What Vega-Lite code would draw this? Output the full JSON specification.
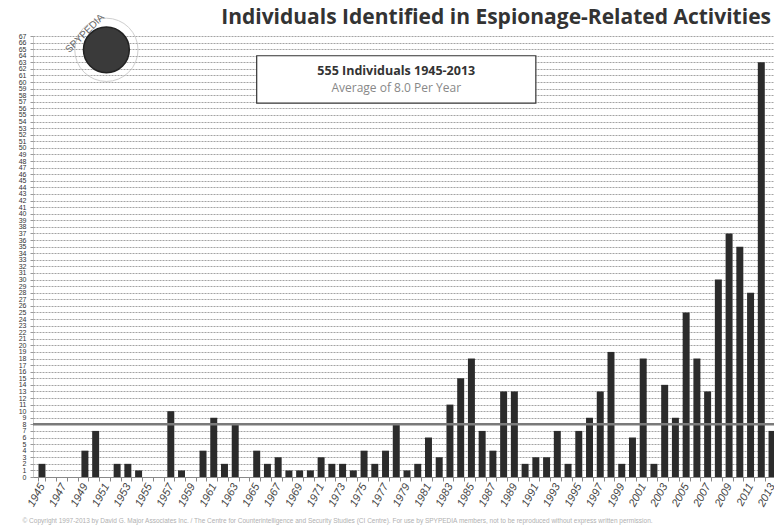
{
  "$schema": "https://vega.github.io/schema/vega-lite/v6.json",
  "width": 741,
  "height": 441,
  "autosize": "none",
  "padding": {"left": 33, "top": 36, "right": 0, "bottom": 50},
  "background": "white",
  "config": {"view": {"stroke": null}, "font": "Liberation Sans", "axisY": {"labelOverlap": false}},
  "title": {
    "text": "Individuals Identified in Espionage-Related Activities",
    "font": "Open Sans",
    "fontSize": 21,
    "fontWeight": "bold",
    "color": "#333",
    "anchor": "end",
    "dx": -10,
    "offset": -16
  },
  "resolve": {"axis": {"x": "independent", "y": "independent"}},
  "data": {
    "values": [
      {"year": 1945, "count": 2}, {"year": 1946, "count": 0}, {"year": 1947, "count": 0}, {"year": 1948, "count": 0},
      {"year": 1949, "count": 4}, {"year": 1950, "count": 7}, {"year": 1951, "count": 0}, {"year": 1952, "count": 2},
      {"year": 1953, "count": 2}, {"year": 1954, "count": 1}, {"year": 1955, "count": 0}, {"year": 1956, "count": 0},
      {"year": 1957, "count": 10}, {"year": 1958, "count": 1}, {"year": 1959, "count": 0}, {"year": 1960, "count": 4},
      {"year": 1961, "count": 9}, {"year": 1962, "count": 2}, {"year": 1963, "count": 8}, {"year": 1964, "count": 0},
      {"year": 1965, "count": 4}, {"year": 1966, "count": 2}, {"year": 1967, "count": 3}, {"year": 1968, "count": 1},
      {"year": 1969, "count": 1}, {"year": 1970, "count": 1}, {"year": 1971, "count": 3}, {"year": 1972, "count": 2},
      {"year": 1973, "count": 2}, {"year": 1974, "count": 1}, {"year": 1975, "count": 4}, {"year": 1976, "count": 2},
      {"year": 1977, "count": 4}, {"year": 1978, "count": 8}, {"year": 1979, "count": 1}, {"year": 1980, "count": 2},
      {"year": 1981, "count": 6}, {"year": 1982, "count": 3}, {"year": 1983, "count": 11}, {"year": 1984, "count": 15},
      {"year": 1985, "count": 18}, {"year": 1986, "count": 7}, {"year": 1987, "count": 4}, {"year": 1988, "count": 13},
      {"year": 1989, "count": 13}, {"year": 1990, "count": 2}, {"year": 1991, "count": 3}, {"year": 1992, "count": 3},
      {"year": 1993, "count": 7}, {"year": 1994, "count": 2}, {"year": 1995, "count": 7}, {"year": 1996, "count": 9},
      {"year": 1997, "count": 13}, {"year": 1998, "count": 19}, {"year": 1999, "count": 2}, {"year": 2000, "count": 6},
      {"year": 2001, "count": 18}, {"year": 2002, "count": 2}, {"year": 2003, "count": 14}, {"year": 2004, "count": 9},
      {"year": 2005, "count": 25}, {"year": 2006, "count": 18}, {"year": 2007, "count": 13}, {"year": 2008, "count": 30},
      {"year": 2009, "count": 37}, {"year": 2010, "count": 35}, {"year": 2011, "count": 28}, {"year": 2012, "count": 63},
      {"year": 2013, "count": 7}
    ]
  },
  "layer": [
    {
      "mark": {"type": "bar", "color": "#2b2b2b"},
      "encoding": {
        "x": {
          "field": "year",
          "type": "ordinal",
          "scale": {"range": [0, 748], "paddingInner": 0.35, "paddingOuter": 0.51},
          "axis": {
            "title": "© Copyright 1997-2013 by David G. Major Associates Inc. / The Centre for Counterintelligence and Security Studies (CI Centre). For use by SPYPEDIA members, not to be reproduced without express written permission.",
            "titleFontSize": 6.5,
            "titleFontWeight": "normal",
            "titleColor": "#b0b0b0",
            "titleAnchor": "start",
            "titleX": -11,
            "titlePadding": 10,
            "labelAngle": -62,
            "labelFontSize": 11,
            "labelFontStyle": "italic",
            "labelColor": "#444",
            "labelExpr": "datum.value % 2 == 1 ? datum.label : ''",
            "labelPadding": 3,
            "tickBand": "extent",
            "tickSize": 4,
            "tickColor": "#888",
            "domainColor": "#888",
            "grid": false
          }
        },
        "y": {
          "field": "count",
          "type": "quantitative",
          "scale": {"domain": [0, 67], "nice": false},
          "axis": {
            "title": null,
            "values": [0,1,2,3,4,5,6,7,8,9,10,11,12,13,14,15,16,17,18,19,20,21,22,23,24,25,26,27,28,29,30,31,32,33,34,35,36,37,38,39,40,41,42,43,44,45,46,47,48,49,50,51,52,53,54,55,56,57,58,59,60,61,62,63,64,65,66,67],
            "tickCount": 100,
            "format": "d",
            "labelFontSize": 7,
            "labelColor": "#333",
            "labelOverlap": false,
            "labelPadding": 4,
            "tickSize": 3,
            "tickColor": "#999",
            "domainColor": "#999",
            "domainDash": [1, 1],
            "grid": true,
            "gridColor": "#999",
            "gridDash": [2, 1],
            "gridOpacity": 0.9
          }
        }
      }
    },
    {
      "data": {"values": [{"average": 8}]},
      "mark": {"type": "rule", "color": "#7a7a7a", "strokeWidth": 2.5},
      "encoding": {"y": {"field": "average", "type": "quantitative", "axis": null}}
    },
    {
      "data": {"values": [{"note": "box"}]},
      "mark": {"type": "rect", "fill": "white", "stroke": "#333", "strokeWidth": 1.2},
      "encoding": {
        "x": {"datum": 1965, "type": "ordinal", "axis": null},
        "x2": {"datum": 1991},
        "y": {"datum": 64, "type": "quantitative", "axis": null},
        "y2": {"datum": 56.8}
      }
    },
    {
      "data": {"values": [{"line": "555 Individuals 1945-2013"}]},
      "mark": {"type": "text", "font": "Open Sans", "fontSize": 12.5, "fontWeight": "bold", "color": "#333"},
      "encoding": {
        "x": {"datum": 1978, "type": "ordinal", "axis": null},
        "y": {"datum": 61.7, "type": "quantitative", "axis": null},
        "text": {"field": "line"}
      }
    },
    {
      "data": {"values": [{"line": "Average of 8.0 Per Year"}]},
      "mark": {"type": "text", "font": "Open Sans", "fontSize": 12, "color": "#888"},
      "encoding": {
        "x": {"datum": 1978, "type": "ordinal", "axis": null},
        "y": {"datum": 59.1, "type": "quantitative", "axis": null},
        "text": {"field": "line"}
      }
    },
    {
      "data": {"values": [{"logo": "ring"}]},
      "mark": {"type": "point", "shape": "circle", "filled": false, "stroke": "#bbb", "strokeWidth": 1, "size": 4000},
      "encoding": {
        "x": {"datum": 1951, "type": "ordinal", "axis": null},
        "y": {"datum": 64.9, "type": "quantitative", "axis": null}
      }
    },
    {
      "data": {"values": [{"logo": "globe"}]},
      "mark": {"type": "point", "shape": "circle", "filled": true, "color": "#3a3a3a", "opacity": 1, "size": 2100, "stroke": "#222", "strokeWidth": 1.5},
      "encoding": {
        "x": {"datum": 1951, "type": "ordinal", "axis": null},
        "y": {"datum": 64.9, "type": "quantitative", "axis": null}
      }
    },
    {
      "data": {"values": [{"logo": "SPYPEDIA"}]},
      "mark": {"type": "text", "fontSize": 10, "color": "#666", "angle": -45, "font": "Liberation Sans"},
      "encoding": {
        "x": {"datum": 1949, "type": "ordinal", "axis": null},
        "y": {"datum": 67.4, "type": "quantitative", "axis": null},
        "text": {"field": "logo"}
      }
    }
  ]
}
